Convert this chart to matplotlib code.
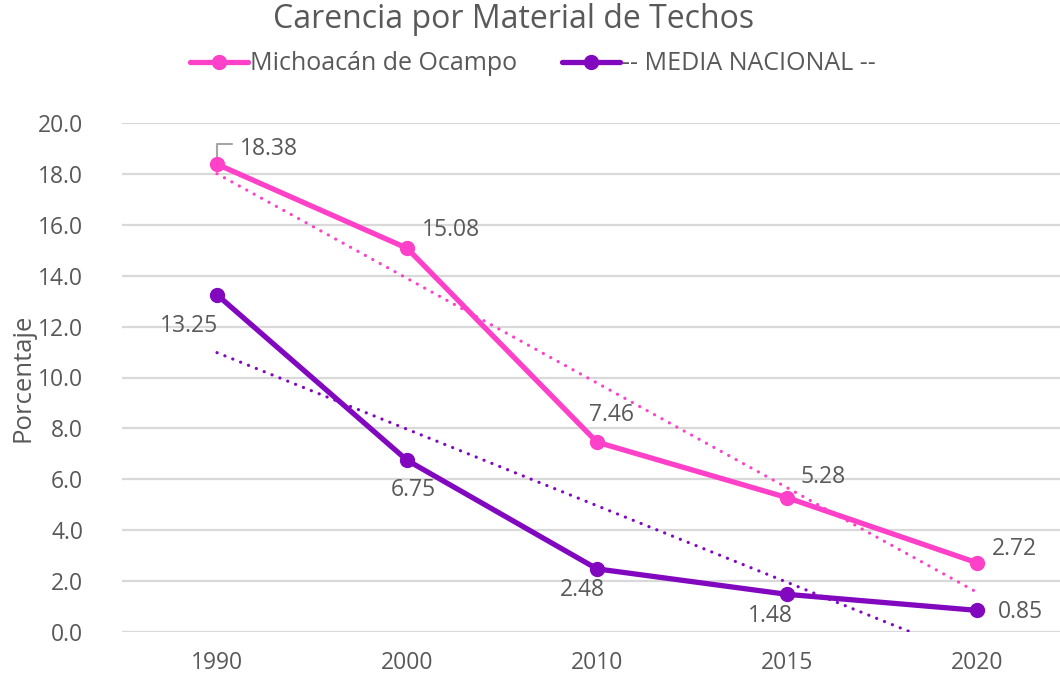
import numpy as np
import matplotlib.pyplot as plt

plt.rcParams['font.family'] = ['Open Sans', 'DejaVu Sans']

years = ["1990", "2000", "2010", "2015", "2020"]
michoacan = [18.38, 15.08, 7.46, 5.28, 2.72]
nacional = [13.25, 6.75, 2.48, 1.48, 0.85]

# label offsets in pixels (dx, dy) for each point
mich_offsets = [(52, 15), (44, 18), (15, 27), (36, 21), (37, 14)]
nac_offsets = [(-28, -31), (6, -30), (-15, -21), (-17, -22), (43, -2)]

PINK = "#FF40C8"
PURPLE = "#8208C0"
GRAY = "#595959"

fig = plt.figure(figsize=(10.6, 6.87), dpi=100)
ax = fig.add_axes([122 / 1060, 55 / 687, 950 / 1060, 509 / 687])

x = np.arange(len(years))

for vals, color, name in [(michoacan, PINK, "Michoacán de Ocampo"),
                          (nacional, PURPLE, "-- MEDIA NACIONAL --")]:
    ax.plot(x, vals, color=color, lw=3.8, marker="o", markersize=10,
            solid_capstyle="round", label=name, zorder=4)
    # linear trend, same as excel
    m, b = np.polyfit(x, vals, 1)
    ax.plot(x, m * x + b, color=color, lw=2.3, linestyle=(0, (0.05, 2.6)),
            dash_capstyle="round", zorder=3)

for xi, v, off in zip(x, michoacan, mich_offsets):
    ax.annotate(f"{v:.2f}", (xi, v), xytext=off, textcoords="offset pixels",
                ha="center", va="center", fontsize=16.5, color=GRAY, zorder=5)
for xi, v, off in zip(x, nacional, nac_offsets):
    ax.annotate(f"{v:.2f}", (xi, v), xytext=off, textcoords="offset pixels",
                ha="center", va="center", fontsize=16.5, color=GRAY, zorder=5)

# leader line on the first label
ax.annotate("", (0, michoacan[0]), xytext=(15, 20), textcoords="offset pixels",
            arrowprops=dict(arrowstyle="-", color="#A6A6A6", lw=1.5,
                            connectionstyle="angle,angleA=0,angleB=90,rad=0",
                            shrinkA=0, shrinkB=4))

ax.set_xlim(-0.5, len(years) - 0.5)
ax.set_ylim(0, 20)
ax.set_yticks(np.arange(0, 20.1, 2))
ax.set_yticklabels([f"{t:.1f}" for t in np.arange(0, 20.1, 2)])
ax.set_xticks(x)
ax.set_xticklabels(years)
ax.tick_params(length=0, labelsize=16.5, labelcolor=GRAY)
ax.tick_params(axis="y", pad=28)
ax.tick_params(axis="x", pad=14)
ax.yaxis.grid(True, color="#D9D9D9", lw=1.6)
ax.set_axisbelow(True)
for s in ax.spines.values():
    s.set_visible(False)

ax.set_ylabel("Porcentaje", fontsize=18.5, color=GRAY, labelpad=2)

fig.text(514 / 1060, 1 - 19 / 687, "Carencia por Material de Techos",
         ha="center", va="center", fontsize=23, color=GRAY)
fig.legend(loc="center", bbox_to_anchor=(533 / 1060, 1 - 64 / 687), ncol=2,
           frameon=False, fontsize=18, handlelength=2.3, handletextpad=0.1,
           columnspacing=1.8, labelcolor=GRAY)

fig.savefig("out.png", dpi=100)
